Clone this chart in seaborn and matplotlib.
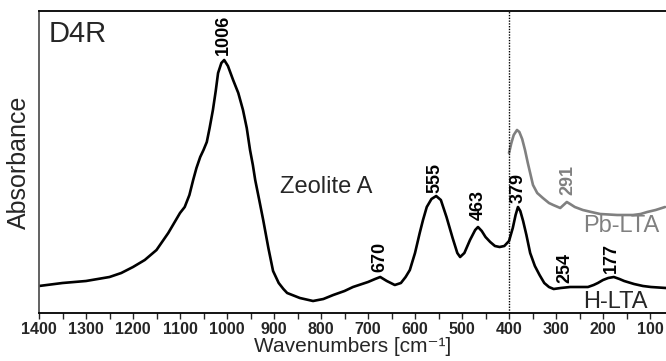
import matplotlib
matplotlib.use("Agg")
import matplotlib.pyplot as plt
import seaborn as sns
import pandas as pd
from matplotlib.ticker import MultipleLocator

sns.set_style("ticks")
plt.rcParams['font.family'] = ['Liberation Sans', 'DejaVu Sans']

# H-LTA spectrum (wavenumber, absorbance in arbitrary units)
h_wn = [1400, 1350, 1300, 1275, 1250, 1225, 1200, 1175, 1150, 1125, 1110, 1100,
        1090, 1080, 1072, 1065, 1057, 1050, 1043, 1037, 1030, 1024, 1019, 1012,
        1006, 998, 987, 976, 966, 958, 951, 945, 940, 931, 923, 912, 902, 890,
        880, 872, 845, 817, 795, 774, 750, 732, 700, 685, 674, 660, 643, 630,
        620, 611, 600, 590, 583, 575, 565, 555, 545, 533, 520, 510, 504, 495,
        483, 472, 466, 458, 450, 440, 430, 420, 410, 400, 392, 386, 381, 376,
        370, 363, 355, 345, 335, 325, 315, 305, 290, 270, 254, 232, 220, 211,
        200, 189, 177, 165, 155, 134, 115, 98, 66]
h_abs = [27, 30, 32, 34, 36, 40, 46, 53, 63, 80, 92, 100,
         106, 118, 133, 145, 156, 163, 171, 185, 203, 222, 240, 250,
         253, 247, 233, 220, 203, 185, 163, 148, 133, 112, 93, 65, 42, 30,
         24, 20, 15, 12, 14, 18, 22, 26, 31, 34, 36, 32, 28, 30,
         36, 43, 60, 80, 93, 106, 114, 117, 113, 96, 75, 60, 56, 60,
         73, 83, 86, 82, 76, 71, 67, 66, 67, 72, 85, 98, 106, 102,
         92, 78, 60, 47, 38, 30, 26, 24, 25, 26, 26, 26, 28, 30,
         33, 35, 36, 34, 32, 29, 27, 26, 25]

# Pb-LTA spectrum (shown only below 400 cm-1)
pb_wn = [400, 395, 390, 383, 378, 372, 366, 360, 354, 349, 340, 328, 315, 306,
         291, 284, 277, 270, 260, 243, 225, 206, 170, 136, 120, 106, 88, 68]
pb_abs = [160, 170, 178, 183, 181, 174, 163, 150, 138, 128, 120, 115, 110, 108,
          105, 108, 111, 109, 106, 103, 101, 99, 98, 98, 99, 101, 103, 106]

# Peak annotations: (label, wavenumber, text bottom, colour)
peak_labels = ["1006", "670", "555", "463", "379", "291", "254", "177"]
peak_x = [1008, 674, 557, 466, 381, 274, 281, 183]
peak_y = [258, 41, 120, 93, 110, 118, 30, 40]
peak_col = ["black", "black", "black", "black", "black", "#808080", "black", "black"]

df_h = pd.DataFrame({"wn": h_wn, "abs": h_abs})
df_pb = pd.DataFrame({"wn": pb_wn, "abs": pb_abs})

fig = plt.figure(figsize=(6.66, 3.61), dpi=100)
ax = fig.add_axes([39/666, 1 - 313/361, 1 - 39/666, (313 - 11)/361])

sns.lineplot(data=df_h, x="wn", y="abs", ax=ax, color="black", lw=1.9, sort=False)
sns.lineplot(data=df_pb, x="wn", y="abs", ax=ax, color="#808080", lw=1.9, sort=False)

ax.axvline(400, color="black", lw=1.0, ls=(0, (1, 1)))

ax.set_xlim(1400, 66)
ax.set_ylim(0, 302)
ax.set_yticks([])
ax.xaxis.set_major_locator(MultipleLocator(100))
ax.xaxis.set_minor_locator(MultipleLocator(50))
ax.tick_params(axis="x", which="both", direction="out", length=4, width=1.0,
               pad=2.5, labelsize=11.5)
for lab in ax.get_xticklabels():
    lab.set_fontweight("bold")
ax.spines["right"].set_visible(False)
for s in ["left", "top", "bottom"]:
    ax.spines[s].set_linewidth(1.3)
    ax.spines[s].set_color("black")
ax.spines["left"].set_color("#555555")

ax.set_xlabel("Wavenumbers [cm\u207b\u00b9]", fontsize=15, labelpad=0)
ax.set_ylabel("Absorbance", fontsize=18, labelpad=6)

for lab, x, y, c in zip(peak_labels, peak_x, peak_y, peak_col):
    ax.text(x, y, lab, rotation=90, ha="center", va="bottom", fontsize=13,
            fontweight="bold", color=c)

ax.text(1379, 271, "D4R", fontsize=21, ha="left", va="baseline")
ax.text(887, 120, "Zeolite A", fontsize=17, ha="left", va="baseline")
ax.text(243, 81, "Pb-LTA", fontsize=17, ha="left", va="baseline", color="#808080")
ax.text(243, 5, "H-LTA", fontsize=17, ha="left", va="baseline")

fig.savefig("out.png", dpi=100)
